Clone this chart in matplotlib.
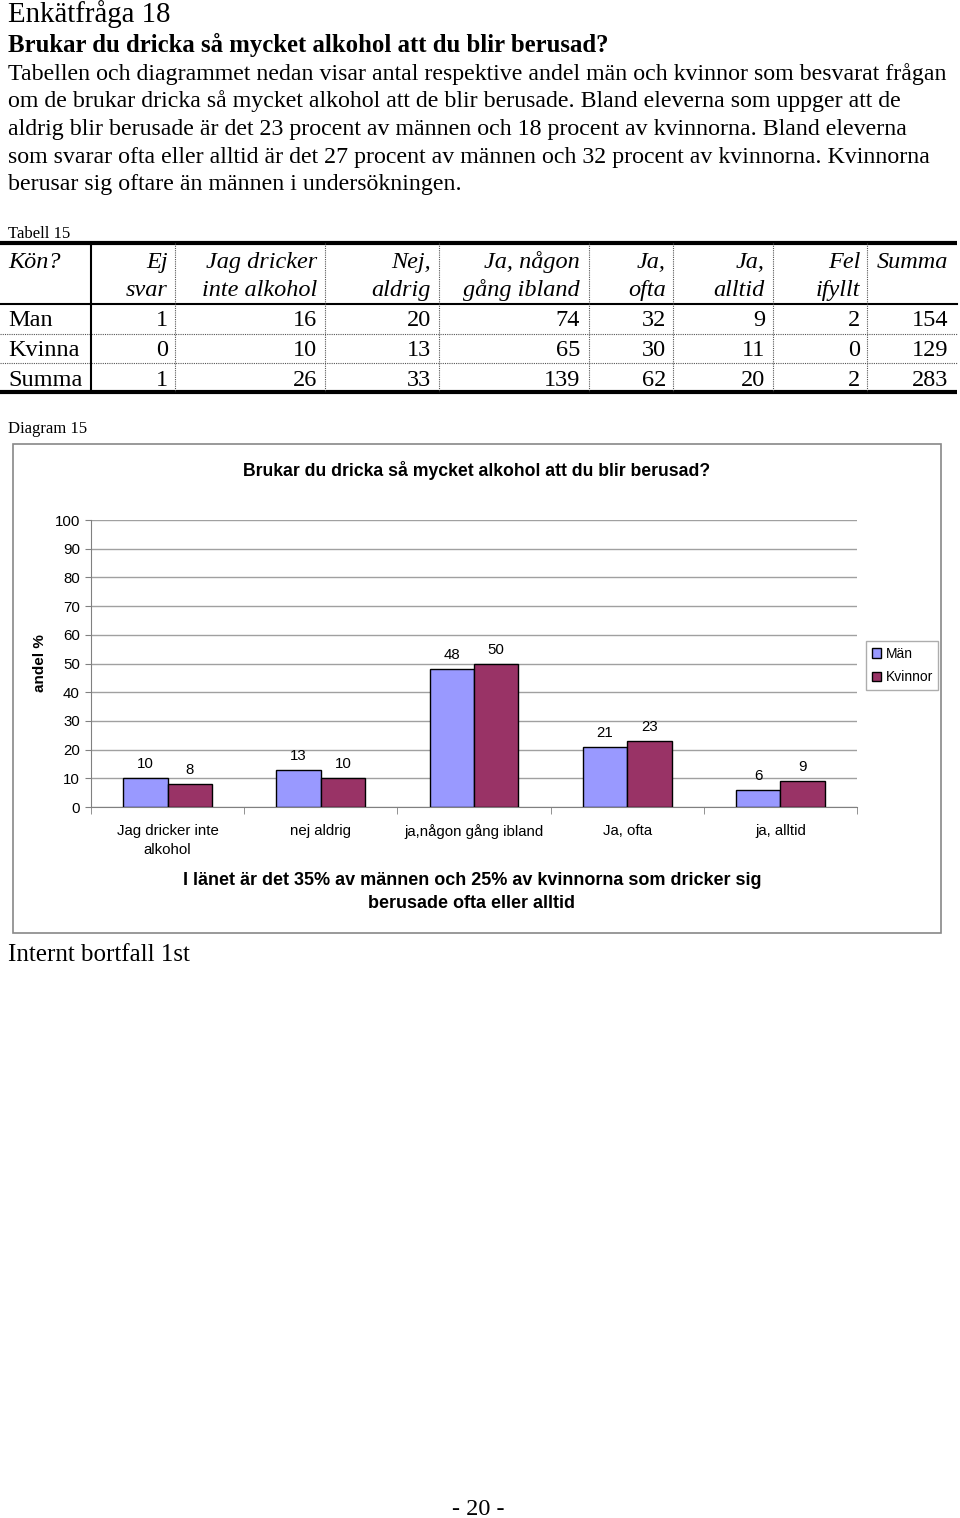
import matplotlib
matplotlib.use("Agg")
import matplotlib.pyplot as plt
from matplotlib.patches import Rectangle
import numpy as np

# ---------------- data ----------------
heading = "Enkätfråga 18"
question = "Brukar du dricka så mycket alkohol att du blir berusad?"
body_lines = [
    "Tabellen och diagrammet nedan visar antal respektive andel män och kvinnor som besvarat frågan",
    "om de brukar dricka så mycket alkohol att de blir berusade. Bland eleverna som uppger att de",
    "aldrig blir berusade är det 23 procent av männen och 18 procent av kvinnorna. Bland eleverna",
    "som svarar ofta eller alltid är det 27 procent av männen och 32 procent av kvinnorna. Kvinnorna",
    "berusar sig oftare än männen i undersökningen.",
]
table_caption = "Tabell 15"
table_header = [("Kön?", ""), ("Ej", "svar"), ("Jag dricker", "inte alkohol"),
                ("Nej,", "aldrig"), ("Ja, någon", "gång ibland"), ("Ja,", "ofta"),
                ("Ja,", "alltid"), ("Fel", "ifyllt"), ("Summa", "")]
row_labels = ["Man", "Kvinna", "Summa"]
row_man = [1, 16, 20, 74, 32, 9, 2, 154]
row_kvinna = [0, 10, 13, 65, 30, 11, 0, 129]
row_summa = [1, 26, 33, 139, 62, 20, 2, 283]

diagram_caption = "Diagram 15"
chart_title = "Brukar du dricka så mycket alkohol att du blir berusad?"
categories = ["Jag dricker inte\nalkohol", "nej aldrig", "ja,någon gång ibland", "Ja, ofta", "ja, alltid"]
man_pct = [10, 13, 48, 21, 6]
kvinna_pct = [8, 10, 50, 23, 9]
series_names = ["Män", "Kvinnor"]
y_label = "andel %"
chart_note = "I länet är det 35% av männen och 25% av kvinnorna som dricker sig\nberusade ofta eller alltid"
footer_note = "Internt bortfall 1st"
page_number = "- 20 -"

# ---------------- figure ----------------
W, H = 960, 1518
fig = plt.figure(figsize=(W / 100, H / 100), dpi=100)
fig.patch.set_facecolor("white")
bg = fig.add_axes([0, 0, 1, 1])
bg.set_xlim(0, W)
bg.set_ylim(H, 0)
bg.axis("off")

SERIF = "Liberation Serif"
SANS = "Liberation Sans"

# heading and body text
bg.text(8, 22, heading, fontsize=20.8, family=SERIF, va="baseline")
bg.text(8, 52, question, fontsize=17.8, family=SERIF, weight="bold", va="baseline")
for i, line in enumerate(body_lines):
    bg.text(8, 80 + i * 27.5, line, fontsize=17.2, family=SERIF, va="baseline")

# ---------------- table ----------------
bg.text(8, 238, table_caption, fontsize=12, family=SERIF, va="baseline")
col_right = [None, 168, 317, 431, 580, 666, 765, 860, 948]
col_sep = [91, 175, 325, 439, 589, 673, 773, 867]
t_top, t_head, t_bot = 243, 304, 392
row_sep = [334, 363]

bg.plot([0, 957], [t_top, t_top], color="black", lw=3, solid_capstyle="butt")
bg.plot([0, 957], [t_bot, t_bot], color="black", lw=3, solid_capstyle="butt")
bg.plot([0, 957], [t_head, t_head], color="black", lw=1.5)
for ys in row_sep:
    bg.plot([0, 957], [ys, ys], color="#555555", lw=0.8, ls=(0, (1, 1)))
for j, xs in enumerate(col_sep):
    if j == 0:
        bg.plot([xs, xs], [t_top, t_bot], color="black", lw=1.5)
    else:
        bg.plot([xs, xs], [t_top, t_bot], color="#555555", lw=0.8, ls=(0, (1, 1)))

hfs = 17.5
for j, (l1, l2) in enumerate(table_header):
    if j == 0:
        bg.text(8, 268, l1, fontsize=hfs, family=SERIF, style="italic", va="baseline")
    else:
        bg.text(col_right[j], 268, l1, fontsize=hfs, family=SERIF, style="italic",
                va="baseline", ha="right")
        if l2:
            bg.text(col_right[j], 296, l2, fontsize=hfs, family=SERIF, style="italic",
                    va="baseline", ha="right")

for r, (lab, vals) in enumerate(zip(row_labels, [row_man, row_kvinna, row_summa])):
    yb = 326 + r * 30
    bg.text(8, yb, lab, fontsize=hfs, family=SERIF, va="baseline")
    for j, v in enumerate(vals):
        bg.text(col_right[j + 1], yb, str(v), fontsize=hfs, family=SERIF,
                va="baseline", ha="right")

# ---------------- chart ----------------
bg.text(8, 433, diagram_caption, fontsize=12, family=SERIF, va="baseline")
bg.add_patch(Rectangle((13, 444), 928, 489, fill=False, edgecolor="#888888", lw=1.2))
bg.text(477, 471, chart_title, fontsize=12.7, family=SANS, weight="bold",
        ha="center", va="center")

pl, pr, pt, pb = 91, 857, 520, 807
ax = fig.add_axes([pl / W, 1 - pb / H, (pr - pl) / W, (pb - pt) / H])
x = np.arange(len(categories))
bw = 0.29
b1 = ax.bar(x - bw / 2, man_pct, bw, color="#9999FF", edgecolor="black", lw=1,
            label=series_names[0], zorder=3)
b2 = ax.bar(x + bw / 2, kvinna_pct, bw, color="#993366", edgecolor="black", lw=1,
            label=series_names[1], zorder=3)
for bars in (b1, b2):
    for rect in bars:
        h = rect.get_height()
        ax.annotate(f"{h:g}", (rect.get_x() + rect.get_width() / 2, h),
                    xytext=(0, 5), textcoords="offset points", ha="center",
                    va="bottom", fontsize=10.8, family=SANS)

ax.set_xlim(-0.5, len(categories) - 0.5)
ax.set_ylim(0, 100)
ax.set_yticks(np.arange(0, 101, 10))
ax.yaxis.grid(True, color="#a0a0a0", lw=1, zorder=0)
ax.set_axisbelow(True)
for s in ("top", "right"):
    ax.spines[s].set_visible(False)
ax.spines["left"].set_color("#808080")
ax.spines["bottom"].set_color("#808080")
ax.tick_params(axis="y", length=4, color="#808080", pad=4, labelsize=10.8)
ax.set_xticks(x)
ax.set_xticklabels(categories, fontsize=10.8, family=SANS, linespacing=1.5)
ax.tick_params(axis="x", which="major", length=0, pad=12)
ax.set_xticks(np.arange(-0.5, len(categories), 1), minor=True)
ax.tick_params(axis="x", which="minor", length=5, color="#808080")
for lab in ax.get_yticklabels():
    lab.set_family(SANS)
ax.set_ylabel(y_label, fontsize=11, family=SANS, weight="bold")
ax.yaxis.set_label_coords(-0.057, 0.5)

leg = ax.legend(loc="upper left", bbox_to_anchor=(866 / W, 1 - 641 / H),
                bbox_transform=fig.transFigure, borderaxespad=0, frameon=True,
                fancybox=False, edgecolor="#999999", handlelength=0.7,
                handleheight=0.7, handletextpad=0.3, borderpad=0.4,
                labelspacing=0.7, prop={"family": SANS, "size": 10})
leg.get_frame().set_linewidth(1)

bg.text(472, 892, chart_note, fontsize=13, family=SANS, weight="bold",
        ha="center", va="center", linespacing=1.45)

bg.text(8, 961, footer_note, fontsize=18, family=SERIF, va="baseline")
bg.text(478, 1515, page_number, fontsize=17.5, family=SERIF, ha="center", va="baseline")

fig.savefig("out.png", dpi=100, facecolor="white")
